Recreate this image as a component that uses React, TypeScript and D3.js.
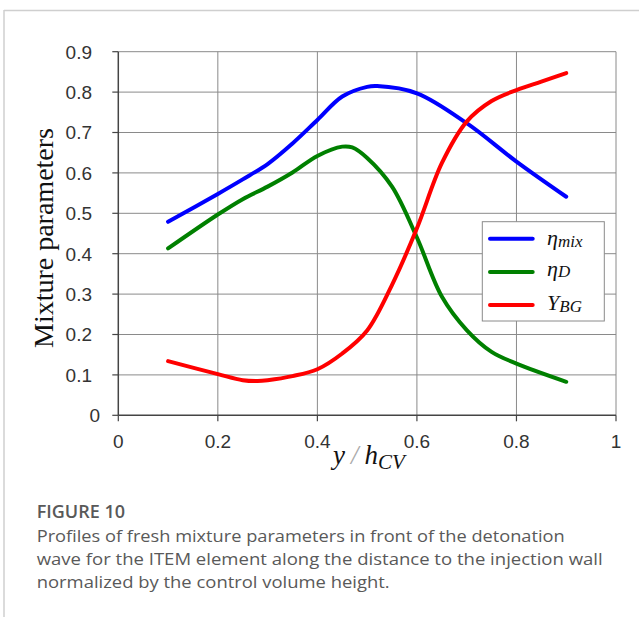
import React from "react";
import * as d3 from "d3";

const xTicks = [0, 0.2, 0.4, 0.6, 0.8, 1];
const xTickLabels = ["0", "0.2", "0.4", "0.6", "0.8", "1"];
const yTicks = [0, 0.1, 0.2, 0.3, 0.4, 0.5, 0.6, 0.7, 0.8, 0.9];
const yTickLabels = ["0", "0.1", "0.2", "0.3", "0.4", "0.5", "0.6", "0.7", "0.8", "0.9"];

const etaMixX = [0.1, 0.2, 0.25, 0.3, 0.35, 0.4, 0.45, 0.5, 0.52, 0.6, 0.7, 0.8, 0.9];
const etaMixY = [0.479, 0.548, 0.584, 0.622, 0.673, 0.731, 0.789, 0.813, 0.815, 0.797, 0.723, 0.628, 0.541];

const etaDX = [0.1, 0.2, 0.25, 0.3, 0.35, 0.4, 0.45, 0.47, 0.5, 0.55, 0.6, 0.65, 0.7, 0.75, 0.8, 0.9];
const etaDY = [0.413, 0.497, 0.535, 0.566, 0.601, 0.642, 0.665, 0.663, 0.637, 0.566, 0.44, 0.294, 0.211, 0.157, 0.128, 0.083];

const yBGX = [0.1, 0.2, 0.25, 0.28, 0.3, 0.35, 0.4, 0.45, 0.5, 0.55, 0.6, 0.65, 0.7, 0.75, 0.8, 0.85, 0.9];
const yBGY = [0.134, 0.102, 0.087, 0.085, 0.087, 0.097, 0.114, 0.153, 0.21, 0.323, 0.463, 0.624, 0.727, 0.778, 0.805, 0.826, 0.847];

const captionTitle = "FIGURE 10";
const captionLines = [
  "Profiles of fresh mixture parameters in front of the detonation",
  "wave for the ITEM element along the distance to the injection wall",
  "normalized by the control volume height.",
];
const captionWidths = [528, 566, 353];

export default function App() {
  const x = d3.scaleLinear().domain([0, 1]).range([118.3, 616]);
  const y = d3.scaleLinear().domain([0, 0.9]).range([415.3, 51.7]);
  const line = d3
    .line<[number, number]>()
    .x((d) => x(d[0]))
    .y((d) => y(d[1]))
    .curve(d3.curveCatmullRom.alpha(0.5));
  const series = [
    { xs: etaMixX, ys: etaMixY, color: "#0000ff" },
    { xs: etaDX, ys: etaDY, color: "#008000" },
    { xs: yBGX, ys: yBGY, color: "#ff0000" },
  ];
  const serif = "'Liberation Serif', 'Times New Roman', serif";
  const sans = "'Liberation Sans', Arial, sans-serif";
  const capFont = "'Open Sans', Lato, sans-serif";
  return (
    <div style={{ position: "absolute", left: 0, top: 0 }}>
      <svg width={639} height={617} style={{ display: "block" }}>
        <rect x={0} y={0} width={639} height={617} fill="#fff" />
        <line x1={4} y1={10.5} x2={639} y2={10.5} stroke="#cfcfcf" strokeWidth={1.5} />
        <line x1={4} y1={10} x2={4} y2={617} stroke="#cfcfcf" strokeWidth={1.5} />
        {/* grid */}
        {yTicks.slice(1).map((t) => (
          <line key={"gy" + t} x1={x(0)} x2={x(1)} y1={y(t)} y2={y(t)} stroke="#8a8a8a" strokeWidth={1} />
        ))}
        {xTicks.slice(1).map((t) => (
          <line key={"gx" + t} x1={x(t)} x2={x(t)} y1={y(0)} y2={y(0.9)} stroke="#8a8a8a" strokeWidth={1} />
        ))}
        {/* axes */}
        <line x1={x(0)} x2={x(0)} y1={y(0)} y2={y(0.9)} stroke="#444" strokeWidth={1.5} />
        <line x1={x(0)} x2={x(1)} y1={y(0)} y2={y(0)} stroke="#444" strokeWidth={1.5} />
        {yTicks.map((t) => (
          <line key={"ty" + t} x1={x(0) - 6} x2={x(0)} y1={y(t)} y2={y(t)} stroke="#444" strokeWidth={1.2} />
        ))}
        {xTicks.map((t) => (
          <line key={"tx" + t} x1={x(t)} x2={x(t)} y1={y(0)} y2={y(0) + 6} stroke="#444" strokeWidth={1.2} />
        ))}
        {yTicks.map((t, i) => (
          <text
            key={"ly" + t}
            x={yTickLabels[i] === "0" ? 100 : 92}
            y={y(t)}
            dy="0.36em"
            textAnchor="end"
            fontFamily={sans}
            fontSize={19}
            fill="#333"
          >
            {yTickLabels[i]}
          </text>
        ))}
        {xTicks.map((t, i) => (
          <text
            key={"lx" + t}
            x={x(t)}
            y={448}
            textAnchor="middle"
            fontFamily={sans}
            fontSize={19}
            fill="#333"
          >
            {xTickLabels[i]}
          </text>
        ))}
        {/* axis titles */}
        <text
          transform="translate(53,238) rotate(-90)"
          textAnchor="middle"
          fontFamily={serif}
          fontSize={28}
          fill="#111"
        >
          Mixture parameters
        </text>
        <text x={333} y={464} fontFamily={serif} fontStyle="italic" fontSize={27} fill="#111">
          y
          <tspan fill="#aaa" dx={6}>/</tspan>
          <tspan dx={6}>h</tspan>
          <tspan fontSize={21} dy={5}>CV</tspan>
        </text>
        {/* curves */}
        {series.map((s, i) => (
          <path
            key={"s" + i}
            d={line(s.xs.map((v, j) => [v, s.ys[j]] as [number, number])) || ""}
            fill="none"
            stroke={s.color}
            strokeWidth={4}
            strokeLinecap="round"
          />
        ))}
        {/* legend */}
        <rect x={482.3} y={221.7} width={122} height={99.3} fill="#fff" stroke="#8a8a8a" strokeWidth={1} />
        {series.map((s, i) => (
          <line
            key={"lg" + i}
            x1={490}
            x2={532.7}
            y1={238.7 + i * 33.2}
            y2={238.7 + i * 33.2}
            stroke={s.color}
            strokeWidth={4}
            strokeLinecap="round"
          />
        ))}
        <text x={547} y={245} fontFamily={serif} fontStyle="italic" fontSize={22} fill="#111">
          η<tspan fontSize={17} dy={2}>mix</tspan>
        </text>
        <text x={547} y={276} fontFamily={serif} fontStyle="italic" fontSize={22} fill="#111">
          η<tspan fontSize={17} dy={1}>D</tspan>
        </text>
        <text x={547} y={310} fontFamily={serif} fontStyle="italic" fontSize={22} fill="#111">
          Y<tspan fontSize={17} dy={2}>BG</tspan>
        </text>
        {/* caption */}
        <text x={36.7} y={518} fontFamily={capFont} fontWeight={600} fontSize={18} fill="#595959">
          {captionTitle}
        </text>
        {captionLines.map((l, i) => (
          <text
            key={"c" + i}
            x={36.7}
            y={541.7 + i * 23.3}
            fontFamily={capFont}
            fontSize={17}
            fill="#595959"
            textLength={captionWidths[i]}
            lengthAdjust="spacingAndGlyphs"
          >
            {l}
          </text>
        ))}
      </svg>
    </div>
  );
}
